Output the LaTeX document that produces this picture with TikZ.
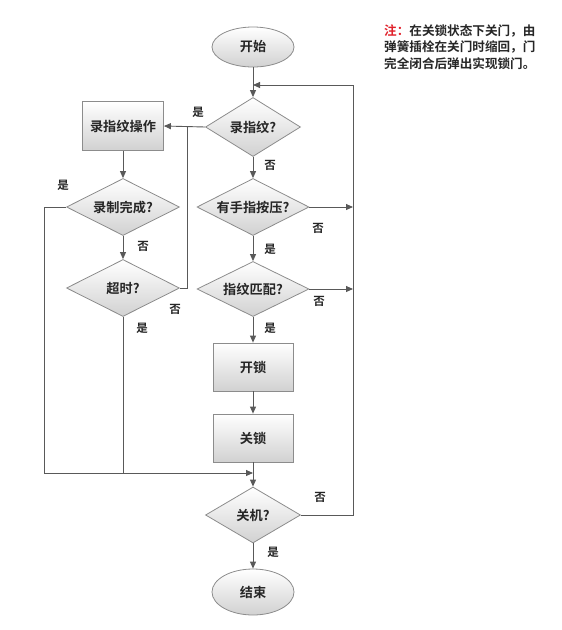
\documentclass[tikz,border=0pt]{standalone}
\usepackage{fontspec}
\setmainfont{Noto Sans CJK SC}[BoldFont={Noto Sans CJK SC Bold}]
\usetikzlibrary{shapes.geometric,arrows.meta}
\definecolor{lineC}{HTML}{595959}
\definecolor{borderC}{HTML}{8C8C8C}
\definecolor{txtC}{HTML}{262626}
\definecolor{noteRed}{HTML}{E0202A}
\tikzset{
  base/.style={draw=borderC, line width=0.8pt, top color=white, bottom color=black!18,
    text=txtC, font=\fontsize{13.2}{15}\selectfont\bfseries, inner sep=0pt},
  termnode/.style={base, ellipse, minimum width=82pt},
  procbox/.style={base, rectangle, minimum width=80pt, minimum height=48pt},
  decide/.style={base, diamond, shape aspect=2.2},
  conn/.style={draw=lineC, line width=0.9pt},
  arr/.style={conn, -{Triangle[length=7pt,width=6pt]}},
  lbl/.style={text=txtC, font=\fontsize{11.5}{13}\selectfont\bfseries, inner sep=0pt}
}
\begin{document}
\begin{tikzpicture}[x=1pt,y=-1pt]
\useasboundingbox (0,0) rectangle (562,630);

\node[termnode, minimum height=40pt] (start) at (253,47) {开始};
\node[decide, minimum width=95pt, minimum height=59pt] (q1) at (253,127) {录指纹?};
\node[procbox, minimum width=81pt, minimum height=49pt] (rec) at (123,126) {录指纹操作};
\node[decide, minimum width=113pt, minimum height=57pt] (q2) at (123,207) {录制完成?};
\node[decide, minimum width=113pt, minimum height=57pt] (q3) at (123,288) {超时?};
\node[decide, minimum width=112pt, minimum height=57pt] (q4) at (253,207) {有手指按压?};
\node[decide, minimum width=112pt, minimum height=55pt] (q5) at (253,289) {指纹匹配?};
\node[procbox] (open) at (253,367) {开锁};
\node[procbox] (close) at (253,438) {关锁};
\node[decide, minimum width=95pt, minimum height=56pt] (q6) at (253,515) {关机?};
\node[termnode, minimum height=46pt] (end) at (253,592) {结束};

\coordinate (j1) at (253,85);
\coordinate (rtop) at (353,85);
\coordinate (rbot) at (353,515);
\coordinate (r4) at (353,207);
\coordinate (r5) at (353,289);
\coordinate (lj) at (187,127);
\coordinate (lq3) at (187,288);
\coordinate (l2) at (44,207);
\coordinate (lb) at (44,473);
\coordinate (mb) at (123,473);
\coordinate (jm) at (253,473);

% main column
\draw[arr] (start) -- (q1);
\draw[arr] (q1) -- (q4);
\draw[arr] (q4) -- (q5);
\draw[arr] (q5) -- (open);
\draw[arr] (open) -- (close);
\draw[arr] (close) -- (q6);
\draw[arr] (q6) -- (end);

% loop back on right
\draw[arr] (q6.east) -- (rbot) -- (rtop) -- (j1);
\draw[arr] (q4.east) -- (r4);
\draw[arr] (q5.east) -- (r5);

% left branch
\draw[arr] (q1.west) -- (rec.east);
\draw[arr] (rec) -- (q2);
\draw[arr] (q2) -- (q3);
\draw[conn] (q3.east) -- (lq3) -- (lj);
\draw[arr] (q2.west) -- (l2) -- (lb) -- (jm);
\draw[conn] (q3.south) -- (mb);

% labels
\node[lbl] (t1) at (198,112) {是};
\node[lbl] (t2) at (270,165) {否};
\node[lbl] (t3) at (63,185) {是};
\node[lbl] (t4) at (143,246) {否};
\node[lbl] (t5) at (175,309) {否};
\node[lbl] (t6) at (142,328) {是};
\node[lbl] (t7) at (318,228) {否};
\node[lbl] (t8) at (270,249) {是};
\node[lbl] (t9) at (319,301) {否};
\node[lbl] (t10) at (270,328) {是};
\node[lbl] (t11) at (320,497) {否};
\node[lbl] (t12) at (273,552) {是};

% note
\node[anchor=north west, align=left, text=txtC, inner sep=0pt,
  font=\fontsize{12.6}{16.5}\selectfont\bfseries] (note) at (384,24)
  {\textcolor{noteRed}{注：}在关锁状态下关门，由\\弹簧插栓在关门时缩回，门\\完全闭合后弹出实现锁门。};
\end{tikzpicture}
\end{document}
